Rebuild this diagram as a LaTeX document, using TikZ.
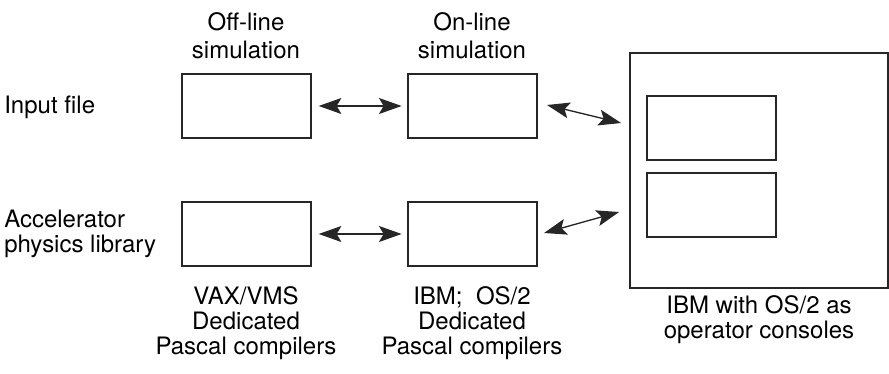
\documentclass[tikz,border=0pt]{standalone}
\usepackage{fontspec}
\setmainfont{TeX Gyre Heros}
\usetikzlibrary{arrows.meta,calc}

\begin{document}
\begin{tikzpicture}[
  x=0.75pt, y=-0.75pt,
  font=\fontsize{18pt}{18.75pt}\selectfont,
  every node/.style={align=center},
  box/.style={draw=black!85, line width=1.3pt, inner sep=0pt,
              minimum width=97pt, minimum height=48pt},
  scr/.style={box, minimum width=96.75pt},
  frame/.style={draw=black!85, line width=1.3pt, inner sep=0pt,
                minimum width=193.5pt, minimum height=176.25pt},
  link/.style={{Stealth[length=17pt,width=12pt,inset=3.5pt]}-{Stealth[length=17pt,width=12pt,inset=3.5pt]},
               draw=black!85, line width=1pt},
  lbl/.style={inner sep=0pt},
]
\useasboundingbox (0,0) rectangle (889,374);

% ---- headings ----
\node[lbl] (offhd) at (246,36) {Off-line\\[2pt]simulation};
\node[lbl] (onhd)  at (472,36) {On-line\\[2pt]simulation};

\node[lbl, anchor=west, align=left] (inlbl)  at (4,107) {Input file};
\node[lbl, anchor=west, align=left] (liblbl) at (4,234) {Accelerator\\physics library};

% ---- program boxes ----
\node[box] (offtop) at (246.5,106) {};
\node[box] (ontop)  at (472.5,106) {};
\node[box] (offbot) at (246.5,234) {};
\node[box] (onbot)  at (472.5,234) {};

% ---- consoles ----
\node[frame] (console) at (759,170.5) {};
\node[scr]   (scrtop)  at (711.5,128) {};
\node[scr]   (scrbot)  at (711.5,205) {};

% ---- links ----
\draw[link, shorten <=5pt, shorten >=4pt] (offtop.east) -- (ontop.west);
\draw[link, shorten <=5pt, shorten >=4pt] (offbot.east) -- (onbot.west);
\draw[link] ($(ontop.east)+(9,-1)$) -- ($(console.west)+(-8,-47.5)$);
\draw[link] ($(onbot.east)+(6,-1)$) -- ($(console.west)+(-10,41.5)$);

% ---- captions ----
\node[lbl] (vaxlbl) at (246,323) {VAX/VMS\\Dedicated\\Pascal compilers};
\node[lbl] (ibmlbl) at (472,323) {IBM;\ \ OS/2\\Dedicated\\Pascal compilers};
\node[lbl] (conlbl) at (759,320) {IBM with OS/2 as\\operator consoles};
\end{tikzpicture}
\end{document}
